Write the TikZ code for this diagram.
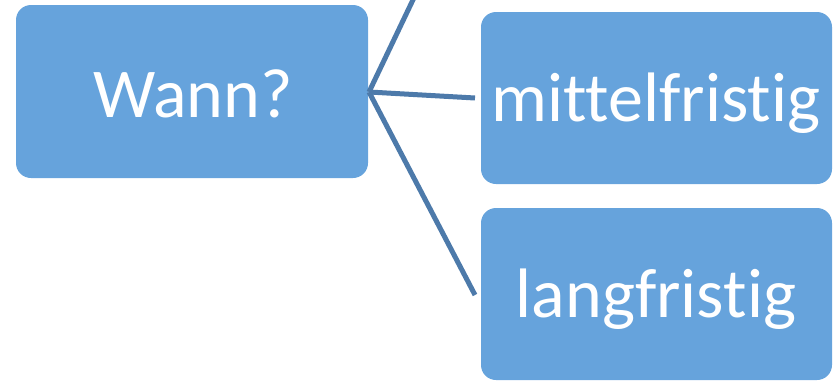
\documentclass[tikz,border=0pt]{standalone}
\usepackage{fontspec}
\setmainfont[Ligatures=NoCommon,RawFeature={-liga;-dlig}]{Carlito}
\definecolor{boxfill}{HTML}{66A3DC}
\definecolor{linkcol}{HTML}{4D7AAA}
\begin{document}
\begin{tikzpicture}[x=1pt,y=-1pt,
  card/.style={fill=boxfill, draw=none, rounded corners=15pt},
  label/.style={font=\fontsize{70}{74}\selectfont, text=white, inner sep=0pt},
  link/.style={draw=linkcol, line width=5pt}]
\useasboundingbox (0,0) rectangle (836,381);
\clip (0,0) rectangle (836,381);
\path[card] (16,5) rectangle (368,178);
\node[label] (wann) at (193,94) {Wann?};
\path[card] (481,12) rectangle (832,184);
\node[label] (mittel) at (656,103) {mittelfristig};
\path[card] (481,208) rectangle (832,380);
\node[label] (lang) at (656,299) {langfristig};
\coordinate (hub) at (369,92);
\coordinate (topend) at (421,-17);
\coordinate (midend) at (475,98);
\coordinate (lowend) at (475,295);
\draw[link] (hub) -- (topend);
\draw[link] (hub) -- (midend);
\draw[link] (hub) -- (lowend);
\end{tikzpicture}
\end{document}
